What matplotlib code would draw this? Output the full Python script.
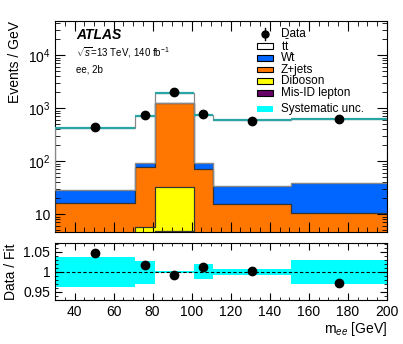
import numpy as np
import matplotlib
matplotlib.use('Agg')
import matplotlib.pyplot as plt
from matplotlib.patches import Rectangle
from matplotlib.ticker import FixedLocator, FixedFormatter, MultipleLocator, NullFormatter

# binning and yields (events / GeV)
edges = [30, 71, 81, 101, 111, 151, 200]
misid = [0.3, 0.8, 4.9, 0.6, 0.2, 0.2]
diboson = [1.5, 5.0, 28.0, 3.0, 1.2, 0.8]
zjets = [14.5, 70.0, 1197.0, 67.0, 14.0, 9.3]
wt = [11.7, 17.0, 30.0, 20.0, 18.5, 27.7]
ttbar = [397.0, 623.0, 658.0, 648.0, 560.0, 581.0]
data = [438.0, 728.0, 1977.0, 761.0, 561.0, 619.0]
data_err = [3.0, 8.0, 10.0, 8.0, 4.0, 4.0]

# ratio panel
ratio = [1.046, 1.016, 0.9925, 1.0125, 1.001, 0.9725]
syst_up = [1.036, 1.0275, 1.002, 1.019, 1.0075, 1.029]
syst_dn = [0.9625, 0.971, 0.998, 0.9825, 0.991, 0.971]

edges = np.array(edges)
centers = 0.5 * (edges[:-1] + edges[1:])

plt.rcParams['font.family'] = ['Liberation Sans', 'DejaVu Sans']
plt.rcParams['mathtext.fontset'] = 'custom'
plt.rcParams['mathtext.rm'] = 'Liberation Sans'
plt.rcParams['mathtext.it'] = 'Liberation Sans:italic'

fig = plt.figure(figsize=(4.03, 3.44), dpi=100)
ax = fig.add_axes([0.1365, 0.3256, 0.8235, 0.6134])
rax = fig.add_axes([0.1365, 0.128, 0.8235, 0.1656])

# stacked histograms
stack = [
    (misid, '#660066'),
    (diboson, '#ffff00'),
    (zjets, '#ff7700'),
    (wt, '#0066ff'),
]
base = np.zeros(len(centers))
for vals, col in stack:
    top = base + np.array(vals)
    ax.stairs(top, edges, baseline=base, fill=True, color=col, zorder=2)
    ax.stairs(top, edges, baseline=base, fill=False, color='#333333', lw=0.8, zorder=3)
    base = top
total = base + np.array(ttbar)
ax.stairs(total, edges, baseline=base, fill=True, color='white', zorder=2)
ax.stairs(total, edges, baseline=base, fill=False, color='#888888', lw=0.9, zorder=3)
# systematic band on total
ax.hlines(total, edges[:-1], edges[1:], color='#2aa5a5', lw=1.6, zorder=4)

ax.errorbar(centers, data, yerr=data_err, fmt='o', color='black', ms=6, lw=1, zorder=6)

ax.set_yscale('log')
ax.set_xlim(30, 200)
ax.set_ylim(4.6, 4.4e4)
ax.yaxis.set_major_locator(FixedLocator([10, 100, 1000, 10000]))
ax.yaxis.set_major_formatter(FixedFormatter(['10', '$10^2$', '$10^3$', '$10^4$']))
ax.yaxis.set_minor_formatter(NullFormatter())
ax.xaxis.set_major_locator(MultipleLocator(20))
ax.xaxis.set_minor_locator(MultipleLocator(5))
ax.tick_params(axis='x', labelbottom=False)
ax.set_ylabel('Events / GeV', fontsize=10, loc='top')

for a in (ax, rax):
    a.tick_params(which='both', direction='in', top=True, right=True, labelsize=10)
    a.tick_params(which='major', length=7)
    a.tick_params(which='minor', length=3.5)
    for s in a.spines.values():
        s.set_linewidth(0.8)
    a.set_axisbelow(False)

ax.text(0.063, 0.934, 'ATLAS', transform=ax.transAxes, fontsize=10, fontweight='bold',
        fontstyle='italic', va='center')
ax.text(0.063, 0.848, r'$\sqrt{s}$=13 TeV, 140 fb$^{-1}$', transform=ax.transAxes, fontsize=7,
        va='center')
ax.text(0.063, 0.768, 'ee, 2b', transform=ax.transAxes, fontsize=7, va='center')

# legend, ROOT style, laid out by hand
legend_labels = ['Data', r'$\mathrm{t\bar{t}}$', 'Wt', 'Z+jets', 'Diboson', 'Mis-ID lepton',
                 'Systematic unc.']
legend_colors = [None, 'white', '#0066ff', '#ff7700', '#ffff00', '#660066', '#00ffff']
row_y = [0.938, 0.882, 0.826, 0.770, 0.714, 0.658, 0.582]
box_x0, box_w, box_h, text_x = 0.608, 0.049, 0.027, 0.681
for lab, col, yy in zip(legend_labels, legend_colors, row_y):
    if col is None:
        ax.plot([box_x0 + box_w / 2] * 2, [yy - 0.028, yy + 0.028], color='black', lw=1,
                transform=ax.transAxes, zorder=7)
        ax.plot([box_x0 + box_w / 2], [yy], 'o', color='black', ms=5,
                transform=ax.transAxes, zorder=7)
    else:
        edge = 'none' if col == '#00ffff' else 'black'
        ax.add_patch(Rectangle((box_x0, yy - box_h / 2), box_w, box_h, facecolor=col,
                               edgecolor=edge, lw=0.8, transform=ax.transAxes, zorder=7))
    ax.text(text_x, yy, lab, transform=ax.transAxes, fontsize=8.5, va='center', zorder=7)

# ratio panel
rax.stairs(syst_up, edges, baseline=syst_dn, fill=True, color='#00ffff', zorder=1)
rax.axhline(1.0, color='black', ls=(0, (3, 2)), lw=0.8, zorder=2)
rax.plot(centers, ratio, 'o', color='black', ms=6, zorder=3)
rax.set_xlim(30, 200)
rax.set_ylim(0.93, 1.072)
rax.yaxis.set_major_locator(FixedLocator([0.95, 1.0, 1.05]))
rax.yaxis.set_major_formatter(FixedFormatter(['0.95', '1', '1.05']))
rax.yaxis.set_minor_locator(MultipleLocator(0.01))
rax.xaxis.set_major_locator(MultipleLocator(20))
rax.xaxis.set_minor_locator(MultipleLocator(5))
rax.tick_params(which='major', length=5)
rax.tick_params(which='minor', length=2.5)
rax.set_ylabel('Data / Fit', fontsize=10)
rax.set_xlabel(r'm$_{ee}$ [GeV]', fontsize=10, loc='right', labelpad=1)
fig.align_ylabels([ax, rax])

fig.savefig('out.png', dpi=100)
